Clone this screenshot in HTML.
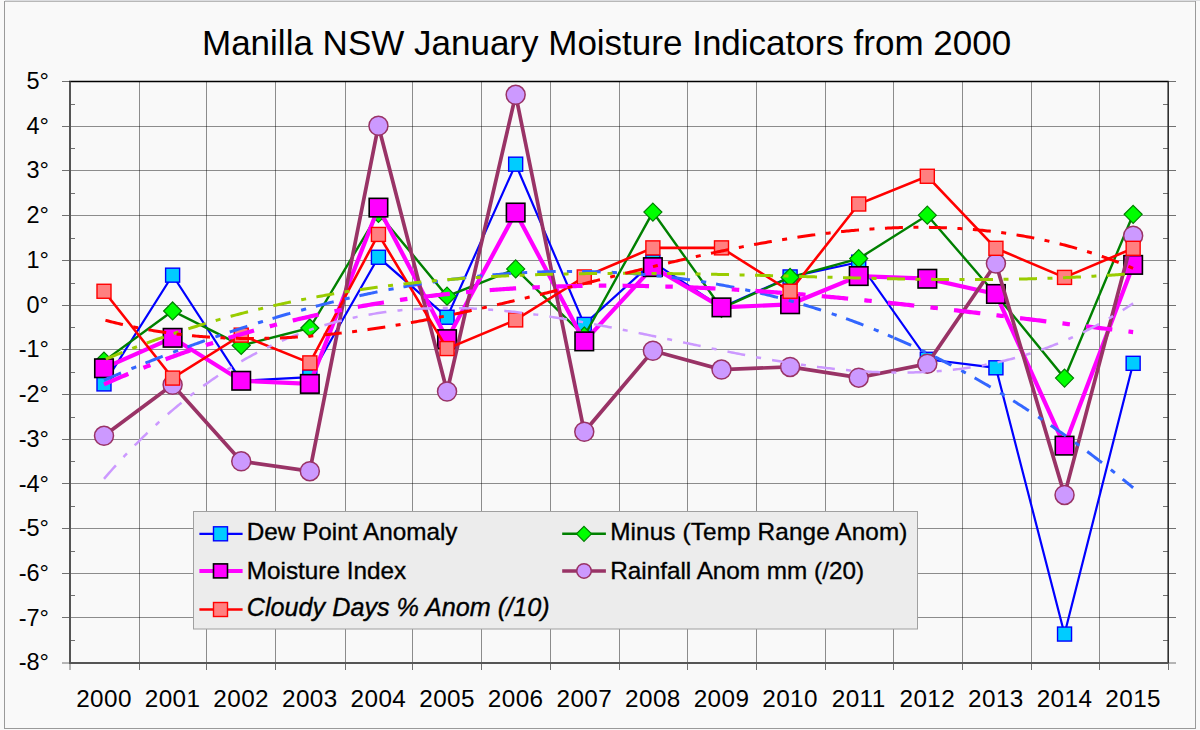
<!DOCTYPE html><html><head><meta charset="utf-8"><style>html,body{margin:0;padding:0;background:#f9f9f9;width:1200px;height:730px;overflow:hidden}svg{display:block}text{font-family:"Liberation Sans",sans-serif;fill:#000}</style></head><body>
<svg width="1200" height="730" viewBox="0 0 1200 730">
<rect x="0" y="0" width="1200" height="730" fill="#f9f9f9"/>
<rect x="5" y="0" width="1195" height="1" fill="#dcdde0"/>
<rect x="4.5" y="1.5" width="1191" height="727" fill="#f9f9f9" stroke="#9a9a9a" stroke-width="1"/>
<path d="M5 1.5H1195" stroke="#b8b8b8" stroke-width="1"/>
<text x="202" y="54.8" font-size="35">Manilla NSW January Moisture Indicators from 2000</text>
<path d="M70.0 126.50H1168.2 M70.0 170.50H1168.2 M70.0 215.50H1168.2 M70.0 260.50H1168.2 M70.0 305.50H1168.2 M70.0 349.50H1168.2 M70.0 394.50H1168.2 M70.0 439.50H1168.2 M70.0 483.50H1168.2 M70.0 528.50H1168.2 M70.0 573.50H1168.2 M70.0 617.50H1168.2" stroke="#000" stroke-opacity="0.44" stroke-width="1" fill="none"/>
<path d="M139.50 81.5V663.0 M206.50 81.5V663.0 M275.50 81.5V663.0 M345.50 81.5V663.0 M412.50 81.5V663.0 M481.50 81.5V663.0 M550.50 81.5V663.0 M619.50 81.5V663.0 M687.50 81.5V663.0 M756.50 81.5V663.0 M825.50 81.5V663.0 M893.50 81.5V663.0 M962.50 81.5V663.0 M1031.50 81.5V663.0 M1099.50 81.5V663.0" stroke="#000" stroke-opacity="0.44" stroke-width="1" fill="none"/>
<path d="M62 81.50H70.0 M1168.2 81.50H1176 M62 126.50H70.0 M1168.2 126.50H1176 M62 170.50H70.0 M1168.2 170.50H1176 M62 215.50H70.0 M1168.2 215.50H1176 M62 260.50H70.0 M1168.2 260.50H1176 M62 305.50H70.0 M1168.2 305.50H1176 M62 349.50H70.0 M1168.2 349.50H1176 M62 394.50H70.0 M1168.2 394.50H1176 M62 439.50H70.0 M1168.2 439.50H1176 M62 483.50H70.0 M1168.2 483.50H1176 M62 528.50H70.0 M1168.2 528.50H1176 M62 573.50H70.0 M1168.2 573.50H1176 M62 617.50H70.0 M1168.2 617.50H1176 M62 663.00H70.0 M1168.2 663.00H1176 M70.0 104.50H75 M1163 104.50H1168.2 M70.0 148.50H75 M1163 148.50H1168.2 M70.0 193.50H75 M1163 193.50H1168.2 M70.0 238.50H75 M1163 238.50H1168.2 M70.0 283.50H75 M1163 283.50H1168.2 M70.0 327.50H75 M1163 327.50H1168.2 M70.0 372.50H75 M1163 372.50H1168.2 M70.0 417.50H75 M1163 417.50H1168.2 M70.0 461.50H75 M1163 461.50H1168.2 M70.0 506.50H75 M1163 506.50H1168.2 M70.0 551.50H75 M1163 551.50H1168.2 M70.0 595.50H75 M1163 595.50H1168.2 M70.0 640.50H75 M1163 640.50H1168.2 M70.00 663.0V670 M139.50 663.0V670 M206.50 663.0V670 M275.50 663.0V670 M345.50 663.0V670 M412.50 663.0V670 M481.50 663.0V670 M550.50 663.0V670 M619.50 663.0V670 M687.50 663.0V670 M756.50 663.0V670 M825.50 663.0V670 M893.50 663.0V670 M962.50 663.0V670 M1031.50 663.0V670 M1099.50 663.0V670 M1168.50 663.0V670" stroke="#707070" stroke-width="1" fill="none"/>
<path d="M69.0 81.5H1168.7" stroke="#000" stroke-width="1.6" fill="none"/>
<path d="M1168.2 81.5V663.0" stroke="#303030" stroke-width="1.6" fill="none"/>
<path d="M70.0 81.5V663.0H1168.2" stroke="#555" stroke-width="2" fill="none"/>
<text x="49" y="88.9" font-size="23.5" text-anchor="end">5°</text>
<text x="49" y="133.6" font-size="23.5" text-anchor="end">4°</text>
<text x="49" y="178.4" font-size="23.5" text-anchor="end">3°</text>
<text x="49" y="223.1" font-size="23.5" text-anchor="end">2°</text>
<text x="49" y="267.8" font-size="23.5" text-anchor="end">1°</text>
<text x="49" y="312.6" font-size="23.5" text-anchor="end">0°</text>
<text x="49" y="357.3" font-size="23.5" text-anchor="end">-1°</text>
<text x="49" y="402.0" font-size="23.5" text-anchor="end">-2°</text>
<text x="49" y="446.7" font-size="23.5" text-anchor="end">-3°</text>
<text x="49" y="491.5" font-size="23.5" text-anchor="end">-4°</text>
<text x="49" y="536.2" font-size="23.5" text-anchor="end">-5°</text>
<text x="49" y="580.9" font-size="23.5" text-anchor="end">-6°</text>
<text x="49" y="625.7" font-size="23.5" text-anchor="end">-7°</text>
<text x="49" y="670.4" font-size="23.5" text-anchor="end">-8°</text>
<text x="104.0" y="706.6" font-size="24.3" letter-spacing="0.4" text-anchor="middle">2000</text>
<text x="172.6" y="706.6" font-size="24.3" letter-spacing="0.4" text-anchor="middle">2001</text>
<text x="241.2" y="706.6" font-size="24.3" letter-spacing="0.4" text-anchor="middle">2002</text>
<text x="309.8" y="706.6" font-size="24.3" letter-spacing="0.4" text-anchor="middle">2003</text>
<text x="378.4" y="706.6" font-size="24.3" letter-spacing="0.4" text-anchor="middle">2004</text>
<text x="447.1" y="706.6" font-size="24.3" letter-spacing="0.4" text-anchor="middle">2005</text>
<text x="515.7" y="706.6" font-size="24.3" letter-spacing="0.4" text-anchor="middle">2006</text>
<text x="584.3" y="706.6" font-size="24.3" letter-spacing="0.4" text-anchor="middle">2007</text>
<text x="652.9" y="706.6" font-size="24.3" letter-spacing="0.4" text-anchor="middle">2008</text>
<text x="721.5" y="706.6" font-size="24.3" letter-spacing="0.4" text-anchor="middle">2009</text>
<text x="790.1" y="706.6" font-size="24.3" letter-spacing="0.4" text-anchor="middle">2010</text>
<text x="858.7" y="706.6" font-size="24.3" letter-spacing="0.4" text-anchor="middle">2011</text>
<text x="927.3" y="706.6" font-size="24.3" letter-spacing="0.4" text-anchor="middle">2012</text>
<text x="995.9" y="706.6" font-size="24.3" letter-spacing="0.4" text-anchor="middle">2013</text>
<text x="1064.5" y="706.6" font-size="24.3" letter-spacing="0.4" text-anchor="middle">2014</text>
<text x="1133.2" y="706.6" font-size="24.3" letter-spacing="0.4" text-anchor="middle">2015</text>
<polyline points="104.0,383.9 172.6,275.2 241.2,380.8 309.8,377.2 378.4,257.3 447.1,317.2 515.7,164.2 584.3,324.4 652.9,262.2 721.5,307.4 790.1,277.0 858.7,262.2 927.3,359.3 995.9,367.8 1064.5,634.1 1133.2,363.3" fill="none" stroke="#0000ff" stroke-width="2.2" stroke-linejoin="miter" stroke-miterlimit="3"/>
<rect x="97.00" y="376.91" width="14" height="14" fill="#00ccff" stroke="#0000ff" stroke-width="1.4"/>
<rect x="165.61" y="268.16" width="14" height="14" fill="#00ccff" stroke="#0000ff" stroke-width="1.4"/>
<rect x="234.22" y="373.77" width="14" height="14" fill="#00ccff" stroke="#0000ff" stroke-width="1.4"/>
<rect x="302.83" y="370.19" width="14" height="14" fill="#00ccff" stroke="#0000ff" stroke-width="1.4"/>
<rect x="371.44" y="250.26" width="14" height="14" fill="#00ccff" stroke="#0000ff" stroke-width="1.4"/>
<rect x="440.05" y="310.23" width="14" height="14" fill="#00ccff" stroke="#0000ff" stroke-width="1.4"/>
<rect x="508.66" y="157.18" width="14" height="14" fill="#00ccff" stroke="#0000ff" stroke-width="1.4"/>
<rect x="577.27" y="317.39" width="14" height="14" fill="#00ccff" stroke="#0000ff" stroke-width="1.4"/>
<rect x="645.88" y="255.19" width="14" height="14" fill="#00ccff" stroke="#0000ff" stroke-width="1.4"/>
<rect x="714.49" y="300.38" width="14" height="14" fill="#00ccff" stroke="#0000ff" stroke-width="1.4"/>
<rect x="783.10" y="269.95" width="14" height="14" fill="#00ccff" stroke="#0000ff" stroke-width="1.4"/>
<rect x="851.71" y="255.19" width="14" height="14" fill="#00ccff" stroke="#0000ff" stroke-width="1.4"/>
<rect x="920.32" y="352.29" width="14" height="14" fill="#00ccff" stroke="#0000ff" stroke-width="1.4"/>
<rect x="988.93" y="360.80" width="14" height="14" fill="#00ccff" stroke="#0000ff" stroke-width="1.4"/>
<rect x="1057.54" y="627.06" width="14" height="14" fill="#00ccff" stroke="#0000ff" stroke-width="1.4"/>
<rect x="1126.15" y="356.32" width="14" height="14" fill="#00ccff" stroke="#0000ff" stroke-width="1.4"/>
<polyline points="104.0,361.1 172.6,311.0 241.2,345.4 309.8,328.0 378.4,213.4 447.1,296.2 515.7,268.9 584.3,336.0 652.9,212.1 721.5,308.3 790.1,277.4 858.7,258.6 927.3,215.2 995.9,294.4 1064.5,378.1 1133.2,214.3" fill="none" stroke="#008000" stroke-width="2.4" stroke-linejoin="miter" stroke-miterlimit="3"/>
<path d="M104.00 352.08L113.00 361.08L104.00 370.08L95.00 361.08Z" fill="#00ff00" stroke="#008000" stroke-width="1.2"/>
<path d="M172.61 301.96L181.61 310.96L172.61 319.96L163.61 310.96Z" fill="#00ff00" stroke="#008000" stroke-width="1.2"/>
<path d="M241.22 336.42L250.22 345.42L241.22 354.42L232.22 345.42Z" fill="#00ff00" stroke="#008000" stroke-width="1.2"/>
<path d="M309.83 318.97L318.83 327.97L309.83 336.97L300.83 327.97Z" fill="#00ff00" stroke="#008000" stroke-width="1.2"/>
<path d="M378.44 204.41L387.44 213.41L378.44 222.41L369.44 213.41Z" fill="#00ff00" stroke="#008000" stroke-width="1.2"/>
<path d="M447.05 287.20L456.05 296.20L447.05 305.20L438.05 296.20Z" fill="#00ff00" stroke="#008000" stroke-width="1.2"/>
<path d="M515.66 259.90L524.66 268.90L515.66 277.90L506.66 268.90Z" fill="#00ff00" stroke="#008000" stroke-width="1.2"/>
<path d="M584.27 327.02L593.27 336.02L584.27 345.02L575.27 336.02Z" fill="#00ff00" stroke="#008000" stroke-width="1.2"/>
<path d="M652.88 203.07L661.88 212.07L652.88 221.07L643.88 212.07Z" fill="#00ff00" stroke="#008000" stroke-width="1.2"/>
<path d="M721.49 299.28L730.49 308.28L721.49 317.28L712.49 308.28Z" fill="#00ff00" stroke="#008000" stroke-width="1.2"/>
<path d="M790.10 268.40L799.10 277.40L790.10 286.40L781.10 277.40Z" fill="#00ff00" stroke="#008000" stroke-width="1.2"/>
<path d="M858.71 249.61L867.71 258.61L858.71 267.61L849.71 258.61Z" fill="#00ff00" stroke="#008000" stroke-width="1.2"/>
<path d="M927.32 206.20L936.32 215.20L927.32 224.20L918.32 215.20Z" fill="#00ff00" stroke="#008000" stroke-width="1.2"/>
<path d="M995.93 285.41L1004.93 294.41L995.93 303.41L986.93 294.41Z" fill="#00ff00" stroke="#008000" stroke-width="1.2"/>
<path d="M1064.54 369.09L1073.54 378.09L1064.54 387.09L1055.54 378.09Z" fill="#00ff00" stroke="#008000" stroke-width="1.2"/>
<path d="M1133.15 205.31L1142.15 214.31L1133.15 223.31L1124.15 214.31Z" fill="#00ff00" stroke="#008000" stroke-width="1.2"/>
<polyline points="104.0,368.2 172.6,337.8 241.2,380.8 309.8,383.9 378.4,207.6 447.1,339.2 515.7,212.5 584.3,341.4 652.9,267.1 721.5,307.4 790.1,304.3 858.7,276.1 927.3,278.7 995.9,294.0 1064.5,445.7 1133.2,264.9" fill="none" stroke="#ff00ff" stroke-width="4.2" stroke-linejoin="miter" stroke-miterlimit="3"/>
<rect x="94.75" y="359.00" width="18.5" height="18.5" fill="#ff00ff" stroke="#000" stroke-width="1.6"/>
<rect x="163.36" y="328.56" width="18.5" height="18.5" fill="#ff00ff" stroke="#000" stroke-width="1.6"/>
<rect x="231.97" y="371.52" width="18.5" height="18.5" fill="#ff00ff" stroke="#000" stroke-width="1.6"/>
<rect x="300.58" y="374.66" width="18.5" height="18.5" fill="#ff00ff" stroke="#000" stroke-width="1.6"/>
<rect x="369.19" y="198.34" width="18.5" height="18.5" fill="#ff00ff" stroke="#000" stroke-width="1.6"/>
<rect x="437.80" y="329.91" width="18.5" height="18.5" fill="#ff00ff" stroke="#000" stroke-width="1.6"/>
<rect x="506.41" y="203.26" width="18.5" height="18.5" fill="#ff00ff" stroke="#000" stroke-width="1.6"/>
<rect x="575.02" y="332.14" width="18.5" height="18.5" fill="#ff00ff" stroke="#000" stroke-width="1.6"/>
<rect x="643.63" y="257.86" width="18.5" height="18.5" fill="#ff00ff" stroke="#000" stroke-width="1.6"/>
<rect x="712.24" y="298.13" width="18.5" height="18.5" fill="#ff00ff" stroke="#000" stroke-width="1.6"/>
<rect x="780.85" y="295.00" width="18.5" height="18.5" fill="#ff00ff" stroke="#000" stroke-width="1.6"/>
<rect x="849.46" y="266.81" width="18.5" height="18.5" fill="#ff00ff" stroke="#000" stroke-width="1.6"/>
<rect x="918.07" y="269.50" width="18.5" height="18.5" fill="#ff00ff" stroke="#000" stroke-width="1.6"/>
<rect x="986.68" y="284.71" width="18.5" height="18.5" fill="#ff00ff" stroke="#000" stroke-width="1.6"/>
<rect x="1055.29" y="436.41" width="18.5" height="18.5" fill="#ff00ff" stroke="#000" stroke-width="1.6"/>
<rect x="1123.90" y="255.62" width="18.5" height="18.5" fill="#ff00ff" stroke="#000" stroke-width="1.6"/>
<polyline points="104.0,435.8 172.6,384.8 241.2,461.3 309.8,471.2 378.4,125.7 447.1,391.5 515.7,94.8 584.3,431.8 652.9,350.8 721.5,369.6 790.1,366.9 858.7,377.6 927.3,363.8 995.9,263.5 1064.5,494.9 1133.2,235.8" fill="none" stroke="#993366" stroke-width="3.7" stroke-linejoin="miter" stroke-miterlimit="3"/>
<circle cx="104.00" cy="435.82" r="9.5" fill="#cc99ff" stroke="#993366" stroke-width="1.5"/>
<circle cx="172.61" cy="384.80" r="9.5" fill="#cc99ff" stroke="#993366" stroke-width="1.5"/>
<circle cx="241.22" cy="461.32" r="9.5" fill="#cc99ff" stroke="#993366" stroke-width="1.5"/>
<circle cx="309.83" cy="471.17" r="9.5" fill="#cc99ff" stroke="#993366" stroke-width="1.5"/>
<circle cx="378.44" cy="125.70" r="9.5" fill="#cc99ff" stroke="#993366" stroke-width="1.5"/>
<circle cx="447.05" cy="391.51" r="9.5" fill="#cc99ff" stroke="#993366" stroke-width="1.5"/>
<circle cx="515.66" cy="94.82" r="9.5" fill="#cc99ff" stroke="#993366" stroke-width="1.5"/>
<circle cx="584.27" cy="431.79" r="9.5" fill="#cc99ff" stroke="#993366" stroke-width="1.5"/>
<circle cx="652.88" cy="350.79" r="9.5" fill="#cc99ff" stroke="#993366" stroke-width="1.5"/>
<circle cx="721.49" cy="369.59" r="9.5" fill="#cc99ff" stroke="#993366" stroke-width="1.5"/>
<circle cx="790.10" cy="366.90" r="9.5" fill="#cc99ff" stroke="#993366" stroke-width="1.5"/>
<circle cx="858.71" cy="377.64" r="9.5" fill="#cc99ff" stroke="#993366" stroke-width="1.5"/>
<circle cx="927.32" cy="363.77" r="9.5" fill="#cc99ff" stroke="#993366" stroke-width="1.5"/>
<circle cx="995.93" cy="263.53" r="9.5" fill="#cc99ff" stroke="#993366" stroke-width="1.5"/>
<circle cx="1064.54" cy="494.89" r="9.5" fill="#cc99ff" stroke="#993366" stroke-width="1.5"/>
<circle cx="1133.15" cy="235.78" r="9.5" fill="#cc99ff" stroke="#993366" stroke-width="1.5"/>
<polyline points="104.0,291.3 172.6,378.1 241.2,335.1 309.8,362.9 378.4,234.4 447.1,348.6 515.7,319.9 584.3,277.0 652.9,247.9 721.5,247.9 790.1,291.3 858.7,204.0 927.3,176.3 995.9,248.3 1064.5,277.4 1133.2,248.3" fill="none" stroke="#ff0000" stroke-width="2.6" stroke-linejoin="miter" stroke-miterlimit="3"/>
<rect x="97.00" y="284.27" width="14" height="14" fill="#ff8080" stroke="#ff0000" stroke-width="1.4"/>
<rect x="165.61" y="371.09" width="14" height="14" fill="#ff8080" stroke="#ff0000" stroke-width="1.4"/>
<rect x="234.22" y="328.13" width="14" height="14" fill="#ff8080" stroke="#ff0000" stroke-width="1.4"/>
<rect x="302.83" y="355.88" width="14" height="14" fill="#ff8080" stroke="#ff0000" stroke-width="1.4"/>
<rect x="371.44" y="227.44" width="14" height="14" fill="#ff8080" stroke="#ff0000" stroke-width="1.4"/>
<rect x="440.05" y="341.56" width="14" height="14" fill="#ff8080" stroke="#ff0000" stroke-width="1.4"/>
<rect x="508.66" y="312.91" width="14" height="14" fill="#ff8080" stroke="#ff0000" stroke-width="1.4"/>
<rect x="577.27" y="269.95" width="14" height="14" fill="#ff8080" stroke="#ff0000" stroke-width="1.4"/>
<rect x="645.88" y="240.87" width="14" height="14" fill="#ff8080" stroke="#ff0000" stroke-width="1.4"/>
<rect x="714.49" y="240.87" width="14" height="14" fill="#ff8080" stroke="#ff0000" stroke-width="1.4"/>
<rect x="783.10" y="284.27" width="14" height="14" fill="#ff8080" stroke="#ff0000" stroke-width="1.4"/>
<rect x="851.71" y="197.01" width="14" height="14" fill="#ff8080" stroke="#ff0000" stroke-width="1.4"/>
<rect x="920.32" y="169.27" width="14" height="14" fill="#ff8080" stroke="#ff0000" stroke-width="1.4"/>
<rect x="988.93" y="241.31" width="14" height="14" fill="#ff8080" stroke="#ff0000" stroke-width="1.4"/>
<rect x="1057.54" y="270.40" width="14" height="14" fill="#ff8080" stroke="#ff0000" stroke-width="1.4"/>
<rect x="1126.15" y="241.31" width="14" height="14" fill="#ff8080" stroke="#ff0000" stroke-width="1.4"/>
<polyline points="104.00,380.19 105.72,379.45 107.43,378.72 109.15,378.00 110.86,377.27 112.58,376.54 114.29,375.82 116.01,375.10 117.72,374.38 119.44,373.67 121.15,372.95 122.87,372.24 124.58,371.53 126.30,370.82 128.01,370.11 129.73,369.41 131.44,368.71 133.16,368.01 134.87,367.31 136.59,366.61 138.31,365.92 140.02,365.23 141.74,364.54 143.45,363.85 145.17,363.16 146.88,362.48 148.60,361.80 150.31,361.12 152.03,360.44 153.74,359.76 155.46,359.09 157.17,358.42 158.89,357.75 160.60,357.08 162.32,356.42 164.03,355.76 165.75,355.10 167.46,354.44 169.18,353.78 170.89,353.13 172.61,352.48 174.33,351.83 176.04,351.18 177.76,350.54 179.47,349.89 181.19,349.25 182.90,348.61 184.62,347.98 186.33,347.34 188.05,346.71 189.76,346.08 191.48,345.46 193.19,344.83 194.91,344.21 196.62,343.59 198.34,342.97 200.05,342.35 201.77,341.74 203.48,341.13 205.20,340.52 206.91,339.91 208.63,339.31 210.35,338.70 212.06,338.10 213.78,337.51 215.49,336.91 217.21,336.32 218.92,335.73 220.64,335.14 222.35,334.55 224.07,333.97 225.78,333.39 227.50,332.81 229.21,332.23 230.93,331.66 232.64,331.08 234.36,330.51 236.07,329.95 237.79,329.38 239.50,328.82 241.22,328.26 242.94,327.70 244.65,327.15 246.37,326.59 248.08,326.04 249.80,325.49 251.51,324.95 253.23,324.41 254.94,323.86 256.66,323.33 258.37,322.79 260.09,322.26 261.80,321.73 263.52,321.20 265.23,320.67 266.95,320.15 268.66,319.63 270.38,319.11 272.09,318.59 273.81,318.08 275.52,317.57 277.24,317.06 278.96,316.55 280.67,316.05 282.39,315.55 284.10,315.05 285.82,314.55 287.53,314.06 289.25,313.57 290.96,313.08 292.68,312.59 294.39,312.11 296.11,311.63 297.82,311.15 299.54,310.68 301.25,310.20 302.97,309.73 304.68,309.26 306.40,308.80 308.11,308.34 309.83,307.88 311.55,307.42 313.26,306.96 314.98,306.51 316.69,306.06 318.41,305.62 320.12,305.17 321.84,304.73 323.55,304.29 325.27,303.85 326.98,303.42 328.70,302.99 330.41,302.56 332.13,302.14 333.84,301.71 335.56,301.29 337.27,300.88 338.99,300.46 340.70,300.05 342.42,299.64 344.13,299.23 345.85,298.83 347.57,298.43 349.28,298.03 351.00,297.63 352.71,297.24 354.43,296.85 356.14,296.46 357.86,296.08 359.57,295.69 361.29,295.32 363.00,294.94 364.72,294.56 366.43,294.19 368.15,293.83 369.86,293.46 371.58,293.10 373.29,292.74 375.01,292.38 376.72,292.03 378.44,291.68 380.16,291.33 381.87,290.98 383.59,290.64 385.30,290.30 387.02,289.96 388.73,289.63 390.45,289.30 392.16,288.97 393.88,288.64 395.59,288.32 397.31,288.00 399.02,287.68 400.74,287.37 402.45,287.06 404.17,286.75 405.88,286.44 407.60,286.14 409.31,285.84 411.03,285.54 412.75,285.25 414.46,284.96 416.18,284.67 417.89,284.39 419.61,284.11 421.32,283.83 423.04,283.55 424.75,283.28 426.47,283.01 428.18,282.74 429.90,282.48 431.61,282.22 433.33,281.96 435.04,281.70 436.76,281.45 438.47,281.20 440.19,280.96 441.90,280.71 443.62,280.47 445.33,280.24 447.05,280.00 448.77,279.77 450.48,279.54 452.20,279.31 453.91,279.09 455.63,278.87 457.34,278.65 459.06,278.44 460.77,278.23 462.49,278.02 464.20,277.81 465.92,277.61 467.63,277.41 469.35,277.22 471.06,277.03 472.78,276.84 474.49,276.65 476.21,276.47 477.92,276.29 479.64,276.11 481.36,275.94 483.07,275.77 484.79,275.60 486.50,275.43 488.22,275.27 489.93,275.12 491.65,274.96 493.36,274.81 495.08,274.66 496.79,274.52 498.51,274.37 500.22,274.24 501.94,274.10 503.65,273.97 505.37,273.84 507.08,273.71 508.80,273.59 510.51,273.47 512.23,273.36 513.94,273.24 515.66,273.13 517.38,273.03 519.09,272.92 520.81,272.82 522.52,272.73 524.24,272.63 525.95,272.54 527.67,272.46 529.38,272.37 531.10,272.29 532.81,272.22 534.53,272.14 536.24,272.07 537.96,272.01 539.67,271.94 541.39,271.88 543.10,271.83 544.82,271.77 546.53,271.72 548.25,271.68 549.96,271.63 551.68,271.59 553.40,271.56 555.11,271.52 556.83,271.49 558.54,271.47 560.26,271.44 561.97,271.43 563.69,271.41 565.40,271.40 567.12,271.39 568.83,271.38 570.55,271.38 572.26,271.38 573.98,271.38 575.69,271.39 577.41,271.40 579.12,271.42 580.84,271.44 582.55,271.46 584.27,271.48 585.99,271.51 587.70,271.54 589.42,271.58 591.13,271.62 592.85,271.66 594.56,271.71 596.28,271.76 597.99,271.81 599.71,271.86 601.42,271.93 603.14,271.99 604.85,272.06 606.57,272.13 608.28,272.20 610.00,272.28 611.71,272.36 613.43,272.44 615.14,272.53 616.86,272.63 618.58,272.72 620.29,272.82 622.01,272.92 623.72,273.03 625.44,273.14 627.15,273.25 628.87,273.37 630.58,273.49 632.30,273.62 634.01,273.74 635.73,273.88 637.44,274.01 639.16,274.15 640.87,274.29 642.59,274.44 644.30,274.59 646.02,274.74 647.73,274.90 649.45,275.06 651.16,275.23 652.88,275.39 654.60,275.56 656.31,275.73 658.03,275.90 659.74,276.08 661.46,276.26 663.17,276.45 664.89,276.64 666.60,276.83 668.32,277.02 670.03,277.22 671.75,277.43 673.46,277.63 675.18,277.85 676.89,278.06 678.61,278.28 680.32,278.50 682.04,278.73 683.75,278.96 685.47,279.19 687.18,279.43 688.90,279.67 690.62,279.91 692.33,280.16 694.05,280.42 695.76,280.67 697.48,280.93 699.19,281.20 700.91,281.46 702.62,281.74 704.34,282.01 706.05,282.29 707.77,282.58 709.48,282.86 711.20,283.15 712.91,283.45 714.63,283.75 716.34,284.05 718.06,284.36 719.77,284.67 721.49,284.98 723.21,285.30 724.92,285.62 726.64,285.95 728.35,286.28 730.07,286.61 731.78,286.95 733.50,287.29 735.21,287.64 736.93,287.99 738.64,288.34 740.36,288.70 742.07,289.06 743.79,289.43 745.50,289.80 747.22,290.17 748.93,290.55 750.65,290.93 752.36,291.32 754.08,291.71 755.79,292.10 757.51,292.50 759.23,292.90 760.94,293.30 762.66,293.71 764.37,294.13 766.09,294.55 767.80,294.97 769.52,295.39 771.23,295.82 772.95,296.26 774.66,296.70 776.38,297.14 778.09,297.58 779.81,298.03 781.52,298.49 783.24,298.95 784.95,299.41 786.67,299.88 788.38,300.35 790.10,300.82 791.82,301.30 793.53,301.79 795.25,302.27 796.96,302.76 798.68,303.26 800.39,303.76 802.11,304.26 803.82,304.77 805.54,305.28 807.25,305.80 808.97,306.32 810.68,306.85 812.40,307.38 814.11,307.91 815.83,308.45 817.54,308.99 819.26,309.53 820.97,310.08 822.69,310.64 824.40,311.20 826.12,311.76 827.84,312.33 829.55,312.90 831.27,313.47 832.98,314.05 834.70,314.64 836.41,315.23 838.13,315.82 839.84,316.42 841.56,317.02 843.27,317.62 844.99,318.23 846.70,318.85 848.42,319.46 850.13,320.09 851.85,320.71 853.56,321.34 855.28,321.98 856.99,322.62 858.71,323.26 860.43,323.92 862.14,324.59 863.86,325.26 865.57,325.93 867.29,326.61 869.00,327.29 870.72,327.97 872.43,328.66 874.15,329.36 875.86,330.06 877.58,330.76 879.29,331.47 881.01,332.18 882.72,332.90 884.44,333.62 886.15,334.35 887.87,335.08 889.58,335.81 891.30,336.55 893.01,337.29" fill="none" stroke="#3366ff" stroke-width="3" stroke-dasharray="18.5 11.2 5.2 10" stroke-dashoffset="0.00"/><polyline points="893.01,337.29 894.73,338.04 896.45,338.79 898.16,339.55 899.88,340.31 901.59,341.08 903.31,341.85 905.02,342.62 906.74,343.40 908.45,344.18 910.17,344.97 911.88,345.76 913.60,346.56 915.31,347.36 917.03,348.17 918.74,348.98 920.46,349.79 922.17,350.61 923.89,351.44 925.60,352.27 927.32,353.10 929.04,353.94 930.75,354.78 932.47,355.63 934.18,356.48 935.90,357.34 937.61,358.20 939.33,359.06 941.04,359.93 942.76,360.81 944.47,361.68 946.19,362.57 947.90,363.46 949.62,364.35 951.33,365.25 953.05,366.15 954.76,367.06 956.48,367.97 958.19,368.88 959.91,369.80 961.62,370.73 963.34,371.66 965.06,372.60 966.77,373.53 968.49,374.48 970.20,375.43 971.92,376.38 973.63,377.34 975.35,378.30 977.06,379.27 978.78,380.24 980.49,381.22 982.21,382.20 983.92,383.19 985.64,384.18 987.35,385.17 989.07,386.18 990.78,387.18 992.50,388.19 994.21,389.21 995.93,390.23 997.65,391.25 999.36,392.28 1001.08,393.31 1002.79,394.35 1004.51,395.40 1006.22,396.45 1007.94,397.50 1009.65,398.56 1011.37,399.62 1013.08,400.69 1014.80,401.76 1016.51,402.84 1018.23,403.92 1019.94,405.01 1021.66,406.10 1023.37,407.20 1025.09,408.30 1026.80,409.40 1028.52,410.51 1030.24,411.63 1031.95,412.75 1033.67,413.88 1035.38,415.01 1037.10,416.14 1038.81,417.29 1040.53,418.43 1042.24,419.58 1043.96,420.74 1045.67,421.90 1047.39,423.06 1049.10,424.23 1050.82,425.41 1052.53,426.59 1054.25,427.77 1055.96,428.96 1057.68,430.16 1059.39,431.36 1061.11,432.56 1062.82,433.77 1064.54,434.99 1066.26,436.21 1067.97,437.43 1069.69,438.66 1071.40,439.90 1073.12,441.14 1074.83,442.38 1076.55,443.63 1078.26,444.89 1079.98,446.15 1081.69,447.41 1083.41,448.68 1085.12,449.96 1086.84,451.24 1088.55,452.52 1090.27,453.81 1091.98,455.11 1093.70,456.41 1095.41,457.71 1097.13,459.02 1098.85,460.34 1100.56,461.66 1102.28,462.99 1103.99,464.32 1105.71,465.65 1107.42,467.00 1109.14,468.34 1110.85,469.69 1112.57,471.05 1114.28,472.41 1116.00,473.78 1117.71,475.15 1119.43,476.53 1121.14,477.91 1122.86,479.30 1124.57,480.69 1126.29,482.09 1128.00,483.49 1129.72,484.90 1131.43,486.31 1133.15,487.73" fill="none" stroke="#3366ff" stroke-width="3" stroke-dasharray="18.5 11.2 5.2 10" stroke-dashoffset="806.83"/>
<polyline points="104.00,359.90 105.72,359.18 107.43,358.46 109.15,357.75 110.86,357.04 112.58,356.33 114.29,355.63 116.01,354.93 117.72,354.23 119.44,353.54 121.15,352.85 122.87,352.17 124.58,351.49 126.30,350.81 128.01,350.14 129.73,349.47 131.44,348.81 133.16,348.14 134.87,347.49 136.59,346.83 138.31,346.18 140.02,345.53 141.74,344.89 143.45,344.25 145.17,343.62 146.88,342.98 148.60,342.36 150.31,341.73 152.03,341.11 153.74,340.49 155.46,339.88 157.17,339.27 158.89,338.66 160.60,338.06 162.32,337.46 164.03,336.86 165.75,336.27 167.46,335.68 169.18,335.10 170.89,334.51 172.61,333.93 174.33,333.36 176.04,332.79 177.76,332.22 179.47,331.66 181.19,331.09 182.90,330.54 184.62,329.98 186.33,329.43 188.05,328.88 189.76,328.34 191.48,327.80 193.19,327.26 194.91,326.73 196.62,326.20 198.34,325.67 200.05,325.15 201.77,324.63 203.48,324.11 205.20,323.60 206.91,323.09 208.63,322.58 210.35,322.07 212.06,321.57 213.78,321.08 215.49,320.58 217.21,320.09 218.92,319.60 220.64,319.12 222.35,318.64 224.07,318.16 225.78,317.69 227.50,317.22 229.21,316.75 230.93,316.28 232.64,315.82 234.36,315.36 236.07,314.91 237.79,314.45 239.50,314.00 241.22,313.56 242.94,313.11 244.65,312.67 246.37,312.24 248.08,311.80 249.80,311.37 251.51,310.94 253.23,310.52 254.94,310.10 256.66,309.68 258.37,309.26 260.09,308.85 261.80,308.44 263.52,308.03 265.23,307.63 266.95,307.23 268.66,306.83 270.38,306.44 272.09,306.05 273.81,305.66 275.52,305.27 277.24,304.89 278.96,304.51 280.67,304.13 282.39,303.76 284.10,303.39 285.82,303.02 287.53,302.65 289.25,302.29 290.96,301.93 292.68,301.57 294.39,301.22 296.11,300.86 297.82,300.52 299.54,300.17 301.25,299.83 302.97,299.49 304.68,299.15 306.40,298.81 308.11,298.48 309.83,298.15 311.55,297.83 313.26,297.50 314.98,297.18 316.69,296.86 318.41,296.55 320.12,296.23 321.84,295.92 323.55,295.61 325.27,295.31 326.98,295.01 328.70,294.71 330.41,294.41 332.13,294.11 333.84,293.82 335.56,293.53 337.27,293.24 338.99,292.96 340.70,292.68 342.42,292.40 344.13,292.12 345.85,291.85 347.57,291.57 349.28,291.31 351.00,291.04 352.71,290.77 354.43,290.51 356.14,290.25 357.86,290.00 359.57,289.74 361.29,289.49 363.00,289.24 364.72,288.99 366.43,288.75 368.15,288.51 369.86,288.27 371.58,288.03 373.29,287.79 375.01,287.56 376.72,287.33 378.44,287.10 380.16,286.87 381.87,286.65 383.59,286.42 385.30,286.20 387.02,285.98 388.73,285.77 390.45,285.55 392.16,285.34 393.88,285.13 395.59,284.93 397.31,284.72 399.02,284.52 400.74,284.32 402.45,284.12 404.17,283.92 405.88,283.73 407.60,283.54 409.31,283.35 411.03,283.16 412.75,282.97 414.46,282.79 416.18,282.61 417.89,282.43 419.61,282.25 421.32,282.08 423.04,281.91 424.75,281.74 426.47,281.57 428.18,281.40 429.90,281.24 431.61,281.07 433.33,280.91 435.04,280.76 436.76,280.60 438.47,280.45 440.19,280.29 441.90,280.14 443.62,279.99 445.33,279.85 447.05,279.70 448.77,279.56 450.48,279.42 452.20,279.28 453.91,279.15 455.63,279.01 457.34,278.88 459.06,278.75 460.77,278.62 462.49,278.49 464.20,278.37 465.92,278.24 467.63,278.12 469.35,278.00 471.06,277.88 472.78,277.77 474.49,277.65 476.21,277.54 477.92,277.43 479.64,277.32 481.36,277.21 483.07,277.11 484.79,277.00 486.50,276.90 488.22,276.80 489.93,276.70 491.65,276.61 493.36,276.51 495.08,276.42 496.79,276.33 498.51,276.24 500.22,276.15 501.94,276.06 503.65,275.98 505.37,275.89 507.08,275.81 508.80,275.73 510.51,275.65 512.23,275.58 513.94,275.50 515.66,275.43 517.38,275.35 519.09,275.28 520.81,275.21 522.52,275.15 524.24,275.08 525.95,275.01 527.67,274.95 529.38,274.89 531.10,274.83 532.81,274.77 534.53,274.71 536.24,274.66 537.96,274.60 539.67,274.55 541.39,274.50 543.10,274.45 544.82,274.40 546.53,274.35 548.25,274.31 549.96,274.26 551.68,274.22 553.40,274.18 555.11,274.14 556.83,274.10 558.54,274.06 560.26,274.02 561.97,273.99 563.69,273.96 565.40,273.92 567.12,273.89 568.83,273.86 570.55,273.83 572.26,273.81 573.98,273.78 575.69,273.76 577.41,273.73 579.12,273.71 580.84,273.69 582.55,273.67 584.27,273.65 585.99,273.62 587.70,273.60 589.42,273.57 591.13,273.55 592.85,273.53 594.56,273.51 596.28,273.49 597.99,273.47 599.71,273.46 601.42,273.44 603.14,273.42 604.85,273.41 606.57,273.40 608.28,273.39 610.00,273.38 611.71,273.37 613.43,273.36 615.14,273.35 616.86,273.34 618.58,273.34 620.29,273.33 622.01,273.33 623.72,273.33 625.44,273.33 627.15,273.32 628.87,273.33 630.58,273.33 632.30,273.33 634.01,273.33 635.73,273.34 637.44,273.34 639.16,273.35 640.87,273.35 642.59,273.36 644.30,273.37 646.02,273.38 647.73,273.39 649.45,273.40 651.16,273.41 652.88,273.42 654.60,273.43 656.31,273.45 658.03,273.46 659.74,273.48 661.46,273.49 663.17,273.51 664.89,273.53 666.60,273.55 668.32,273.57 670.03,273.59 671.75,273.61 673.46,273.63 675.18,273.65 676.89,273.67 678.61,273.69 680.32,273.72 682.04,273.74 683.75,273.77 685.47,273.79 687.18,273.82 688.90,273.85 690.62,273.87 692.33,273.90 694.05,273.93 695.76,273.96 697.48,273.99 699.19,274.02 700.91,274.05 702.62,274.08 704.34,274.11 706.05,274.15 707.77,274.18 709.48,274.21 711.20,274.25 712.91,274.28 714.63,274.32 716.34,274.35 718.06,274.39 719.77,274.42 721.49,274.46 723.21,274.50 724.92,274.53 726.64,274.57 728.35,274.61 730.07,274.65 731.78,274.68 733.50,274.72 735.21,274.76 736.93,274.80 738.64,274.84 740.36,274.88 742.07,274.92 743.79,274.96 745.50,275.01 747.22,275.05 748.93,275.09 750.65,275.13 752.36,275.17 754.08,275.22 755.79,275.26 757.51,275.30 759.23,275.34 760.94,275.39 762.66,275.43 764.37,275.47 766.09,275.52 767.80,275.56 769.52,275.61 771.23,275.65 772.95,275.70 774.66,275.74 776.38,275.78 778.09,275.83 779.81,275.87 781.52,275.92 783.24,275.96 784.95,276.01 786.67,276.05 788.38,276.10 790.10,276.14 791.82,276.19 793.53,276.24 795.25,276.29 796.96,276.34 798.68,276.39 800.39,276.44 802.11,276.49 803.82,276.54 805.54,276.59 807.25,276.63 808.97,276.68 810.68,276.73 812.40,276.78 814.11,276.83 815.83,276.88 817.54,276.93 819.26,276.97 820.97,277.02 822.69,277.07 824.40,277.12 826.12,277.17 827.84,277.21 829.55,277.26 831.27,277.31 832.98,277.35 834.70,277.40 836.41,277.45 838.13,277.49 839.84,277.54 841.56,277.58 843.27,277.63 844.99,277.68 846.70,277.72 848.42,277.76 850.13,277.81 851.85,277.85 853.56,277.90 855.28,277.94 856.99,277.98 858.71,278.02 860.43,278.07 862.14,278.11 863.86,278.15 865.57,278.19 867.29,278.23 869.00,278.27 870.72,278.31 872.43,278.35 874.15,278.39 875.86,278.43 877.58,278.46 879.29,278.50 881.01,278.54 882.72,278.57 884.44,278.61 886.15,278.65 887.87,278.68 889.58,278.72 891.30,278.75 893.01,278.78 894.73,278.81 896.45,278.85 898.16,278.88 899.88,278.91 901.59,278.94 903.31,278.97 905.02,279.00 906.74,279.03 908.45,279.05 910.17,279.08 911.88,279.11 913.60,279.13 915.31,279.16 917.03,279.18 918.74,279.21 920.46,279.23 922.17,279.25 923.89,279.27 925.60,279.30 927.32,279.32 929.04,279.34 930.75,279.35 932.47,279.37 934.18,279.39 935.90,279.41 937.61,279.42 939.33,279.44 941.04,279.45 942.76,279.46 944.47,279.47 946.19,279.49 947.90,279.50 949.62,279.51 951.33,279.51 953.05,279.52 954.76,279.53 956.48,279.54 958.19,279.54 959.91,279.54 961.62,279.55 963.34,279.55 965.06,279.55 966.77,279.55 968.49,279.55 970.20,279.55 971.92,279.55 973.63,279.54 975.35,279.54 977.06,279.53 978.78,279.53 980.49,279.52 982.21,279.51 983.92,279.50 985.64,279.49 987.35,279.48 989.07,279.46 990.78,279.45 992.50,279.44 994.21,279.42 995.93,279.40 997.65,279.38 999.36,279.36 1001.08,279.34 1002.79,279.32 1004.51,279.30 1006.22,279.27 1007.94,279.25 1009.65,279.22 1011.37,279.19 1013.08,279.16 1014.80,279.13 1016.51,279.10 1018.23,279.07 1019.94,279.03 1021.66,279.00 1023.37,278.96 1025.09,278.92 1026.80,278.88 1028.52,278.84 1030.24,278.80 1031.95,278.76 1033.67,278.71 1035.38,278.66 1037.10,278.62 1038.81,278.57 1040.53,278.52 1042.24,278.47 1043.96,278.41 1045.67,278.36 1047.39,278.30 1049.10,278.24 1050.82,278.19 1052.53,278.13 1054.25,278.06 1055.96,278.00 1057.68,277.94 1059.39,277.87 1061.11,277.80 1062.82,277.73 1064.54,277.66 1066.26,277.59 1067.97,277.52 1069.69,277.44 1071.40,277.36 1073.12,277.29 1074.83,277.21 1076.55,277.12 1078.26,277.04 1079.98,276.96 1081.69,276.87 1083.41,276.78 1085.12,276.69 1086.84,276.60 1088.55,276.51 1090.27,276.41 1091.98,276.32 1093.70,276.22 1095.41,276.12 1097.13,276.02 1098.85,275.92 1100.56,275.81 1102.28,275.70 1103.99,275.60 1105.71,275.49 1107.42,275.37 1109.14,275.26 1110.85,275.15 1112.57,275.03 1114.28,274.91 1116.00,274.79 1117.71,274.67 1119.43,274.54 1121.14,274.42 1122.86,274.29 1124.57,274.16 1126.29,274.03 1128.00,273.89 1129.72,273.76 1131.43,273.62 1133.15,273.48" fill="none" stroke="#99cc00" stroke-width="3" stroke-dasharray="18 10.5 5 10.5" stroke-dashoffset="-2.00"/>
<polyline points="104.00,384.33 105.72,383.57 107.43,382.82 109.15,382.07 110.86,381.32 112.58,380.57 114.29,379.83 116.01,379.10 117.72,378.36 119.44,377.63 121.15,376.91 122.87,376.18 124.58,375.46 126.30,374.74 128.01,374.03 129.73,373.32 131.44,372.62 133.16,371.91 134.87,371.21 136.59,370.52 138.31,369.82 140.02,369.13 141.74,368.45 143.45,367.77 145.17,367.09 146.88,366.41 148.60,365.74 150.31,365.07 152.03,364.40 153.74,363.74 155.46,363.08 157.17,362.42 158.89,361.77 160.60,361.12 162.32,360.48 164.03,359.83 165.75,359.19 167.46,358.56 169.18,357.92 170.89,357.29 172.61,356.67 174.33,356.04 176.04,355.42 177.76,354.81 179.47,354.19 181.19,353.58 182.90,352.98 184.62,352.37 186.33,351.77 188.05,351.18 189.76,350.58 191.48,349.99 193.19,349.40 194.91,348.82 196.62,348.24 198.34,347.66 200.05,347.08 201.77,346.51 203.48,345.94 205.20,345.38 206.91,344.81 208.63,344.25 210.35,343.70 212.06,343.14 213.78,342.59 215.49,342.05 217.21,341.50 218.92,340.96 220.64,340.43 222.35,339.89 224.07,339.36 225.78,338.83 227.50,338.31 229.21,337.78 230.93,337.26 232.64,336.75 234.36,336.23 236.07,335.72 237.79,335.22 239.50,334.71 241.22,334.21 242.94,333.71 244.65,333.22 246.37,332.73 248.08,332.24 249.80,331.75 251.51,331.27 253.23,330.79 254.94,330.31 256.66,329.83 258.37,329.36 260.09,328.89 261.80,328.43 263.52,327.97 265.23,327.51 266.95,327.05 268.66,326.60 270.38,326.15 272.09,325.70 273.81,325.25 275.52,324.81 277.24,324.37 278.96,323.93 280.67,323.50 282.39,323.07 284.10,322.64 285.82,322.22 287.53,321.79 289.25,321.37 290.96,320.96 292.68,320.54 294.39,320.13 296.11,319.72 297.82,319.32 299.54,318.92 301.25,318.52 302.97,318.12 304.68,317.72 306.40,317.33 308.11,316.94 309.83,316.56 311.55,316.17 313.26,315.79 314.98,315.42 316.69,315.04 318.41,314.67 320.12,314.30 321.84,313.93 323.55,313.57 325.27,313.21 326.98,312.85 328.70,312.49 330.41,312.14 332.13,311.79 333.84,311.44 335.56,311.09 337.27,310.75 338.99,310.41 340.70,310.07 342.42,309.74 344.13,309.41 345.85,309.08 347.57,308.75 349.28,308.42 351.00,308.10 352.71,307.78 354.43,307.47 356.14,307.15 357.86,306.84 359.57,306.53 361.29,306.23 363.00,305.92 364.72,305.62 366.43,305.32 368.15,305.03 369.86,304.73 371.58,304.44 373.29,304.15 375.01,303.87 376.72,303.58 378.44,303.30 380.16,303.02 381.87,302.75 383.59,302.47 385.30,302.20 387.02,301.93 388.73,301.67 390.45,301.40 392.16,301.14 393.88,300.88 395.59,300.63 397.31,300.37 399.02,300.12 400.74,299.87 402.45,299.63 404.17,299.38 405.88,299.14 407.60,298.90 409.31,298.66 411.03,298.43 412.75,298.20 414.46,297.97 416.18,297.74 417.89,297.52 419.61,297.29 421.32,297.07 423.04,296.85 424.75,296.64 426.47,296.42 428.18,296.21 429.90,296.00 431.61,295.80 433.33,295.59 435.04,295.39 436.76,295.19 438.47,294.99 440.19,294.80 441.90,294.61 443.62,294.42 445.33,294.23 447.05,294.04 448.77,293.86 450.48,293.68 452.20,293.50 453.91,293.32 455.63,293.14 457.34,292.97 459.06,292.80 460.77,292.63 462.49,292.47 464.20,292.30 465.92,292.14 467.63,291.98 469.35,291.82 471.06,291.67 472.78,291.52 474.49,291.36 476.21,291.22 477.92,291.07 479.64,290.92 481.36,290.78 483.07,290.64 484.79,290.50 486.50,290.37 488.22,290.23 489.93,290.10 491.65,289.97 493.36,289.84 495.08,289.72 496.79,289.59 498.51,289.47 500.22,289.35 501.94,289.24 503.65,289.12 505.37,289.01 507.08,288.90 508.80,288.79 510.51,288.68 512.23,288.57 513.94,288.47 515.66,288.37 517.38,288.27 519.09,288.17 520.81,288.08 522.52,287.98 524.24,287.89 525.95,287.80 527.67,287.71 529.38,287.63 531.10,287.55 532.81,287.46 534.53,287.38 536.24,287.31 537.96,287.23 539.67,287.16 541.39,287.08 543.10,287.01 544.82,286.95 546.53,286.88 548.25,286.81 549.96,286.75 551.68,286.69 553.40,286.63 555.11,286.58 556.83,286.52 558.54,286.47 560.26,286.41 561.97,286.36 563.69,286.32 565.40,286.27 567.12,286.23 568.83,286.18 570.55,286.14 572.26,286.10 573.98,286.07 575.69,286.03 577.41,286.00 579.12,285.97 580.84,285.94 582.55,285.91 584.27,285.88 585.99,285.86 587.70,285.83 589.42,285.81 591.13,285.79 592.85,285.77 594.56,285.76 596.28,285.74 597.99,285.73 599.71,285.72 601.42,285.71 603.14,285.70 604.85,285.69 606.57,285.69 608.28,285.69 610.00,285.69 611.71,285.69 613.43,285.69 615.14,285.69 616.86,285.70 618.58,285.70 620.29,285.71 622.01,285.72 623.72,285.73 625.44,285.75 627.15,285.76 628.87,285.78 630.58,285.80 632.30,285.82 634.01,285.84 635.73,285.86 637.44,285.89 639.16,285.91 640.87,285.94 642.59,285.97 644.30,286.00 646.02,286.03 647.73,286.06 649.45,286.10 651.16,286.13 652.88,286.17 654.60,286.21 656.31,286.25 658.03,286.30 659.74,286.34 661.46,286.38 663.17,286.43 664.89,286.48 666.60,286.53 668.32,286.58 670.03,286.63 671.75,286.69 673.46,286.74 675.18,286.80 676.89,286.86 678.61,286.92 680.32,286.98 682.04,287.04 683.75,287.10 685.47,287.17 687.18,287.23 688.90,287.30 690.62,287.37 692.33,287.44 694.05,287.51 695.76,287.59 697.48,287.66 699.19,287.74 700.91,287.81 702.62,287.89 704.34,287.97 706.05,288.05 707.77,288.14 709.48,288.22 711.20,288.30 712.91,288.39 714.63,288.48 716.34,288.57 718.06,288.66 719.77,288.75 721.49,288.84 723.21,288.93 724.92,289.03 726.64,289.12 728.35,289.22 730.07,289.32 731.78,289.42 733.50,289.52 735.21,289.62 736.93,289.73 738.64,289.83 740.36,289.94 742.07,290.04 743.79,290.15 745.50,290.26 747.22,290.37 748.93,290.48 750.65,290.59 752.36,290.71 754.08,290.82 755.79,290.94 757.51,291.05 759.23,291.17 760.94,291.29 762.66,291.41 764.37,291.53 766.09,291.66 767.80,291.78 769.52,291.90 771.23,292.03 772.95,292.16 774.66,292.28 776.38,292.41 778.09,292.54 779.81,292.67 781.52,292.80 783.24,292.94 784.95,293.07 786.67,293.20 788.38,293.34 790.10,293.48 791.82,293.62 793.53,293.75 795.25,293.89 796.96,294.03 798.68,294.18 800.39,294.32 802.11,294.46 803.82,294.61 805.54,294.75 807.25,294.90 808.97,295.04 810.68,295.19 812.40,295.34 814.11,295.49 815.83,295.64 817.54,295.79 819.26,295.95 820.97,296.10 822.69,296.25 824.40,296.41 826.12,296.56 827.84,296.72 829.55,296.88 831.27,297.04 832.98,297.20 834.70,297.36 836.41,297.52 838.13,297.68 839.84,297.84 841.56,298.01 843.27,298.17 844.99,298.33 846.70,298.50 848.42,298.67 850.13,298.83 851.85,299.00 853.56,299.17 855.28,299.34 856.99,299.51 858.71,299.68 860.43,299.85 862.14,300.03 863.86,300.20 865.57,300.37 867.29,300.55 869.00,300.72 870.72,300.90 872.43,301.07 874.15,301.25 875.86,301.43 877.58,301.61 879.29,301.79 881.01,301.97 882.72,302.15 884.44,302.33 886.15,302.51 887.87,302.69 889.58,302.88 891.30,303.06 893.01,303.24 894.73,303.43 896.45,303.61 898.16,303.80 899.88,303.99 901.59,304.17 903.31,304.36 905.02,304.55 906.74,304.74 908.45,304.93 910.17,305.12 911.88,305.31 913.60,305.50 915.31,305.69 917.03,305.88 918.74,306.08 920.46,306.27 922.17,306.46 923.89,306.66 925.60,306.85 927.32,307.05 929.04,307.24 930.75,307.44 932.47,307.63 934.18,307.83 935.90,308.03 937.61,308.23 939.33,308.42 941.04,308.62 942.76,308.82 944.47,309.02 946.19,309.22 947.90,309.42 949.62,309.62 951.33,309.82 953.05,310.02 954.76,310.23 956.48,310.43 958.19,310.63 959.91,310.83 961.62,311.04 963.34,311.24 965.06,311.45 966.77,311.65 968.49,311.85 970.20,312.06 971.92,312.26 973.63,312.47 975.35,312.68 977.06,312.88 978.78,313.09 980.49,313.30 982.21,313.50 983.92,313.71 985.64,313.92 987.35,314.12 989.07,314.33 990.78,314.54 992.50,314.75 994.21,314.96 995.93,315.17 997.65,315.38 999.36,315.59 1001.08,315.80 1002.79,316.01 1004.51,316.22 1006.22,316.43 1007.94,316.64 1009.65,316.85 1011.37,317.06 1013.08,317.27 1014.80,317.48 1016.51,317.69 1018.23,317.90 1019.94,318.11 1021.66,318.33 1023.37,318.54 1025.09,318.75 1026.80,318.96 1028.52,319.17 1030.24,319.39 1031.95,319.60 1033.67,319.81 1035.38,320.02 1037.10,320.24 1038.81,320.45 1040.53,320.66 1042.24,320.87 1043.96,321.09 1045.67,321.30 1047.39,321.51 1049.10,321.72 1050.82,321.94 1052.53,322.15 1054.25,322.36 1055.96,322.58 1057.68,322.79 1059.39,323.00 1061.11,323.22 1062.82,323.43 1064.54,323.64 1066.26,323.85 1067.97,324.07 1069.69,324.28 1071.40,324.49 1073.12,324.71 1074.83,324.92 1076.55,325.13 1078.26,325.34 1079.98,325.56 1081.69,325.77 1083.41,325.98 1085.12,326.19 1086.84,326.40 1088.55,326.62 1090.27,326.83 1091.98,327.04 1093.70,327.25 1095.41,327.46 1097.13,327.67 1098.85,327.88 1100.56,328.09 1102.28,328.31 1103.99,328.52 1105.71,328.73 1107.42,328.94 1109.14,329.15 1110.85,329.36 1112.57,329.57 1114.28,329.78 1116.00,329.98 1117.71,330.19 1119.43,330.40 1121.14,330.61 1122.86,330.82 1124.57,331.03 1126.29,331.23 1128.00,331.44 1129.72,331.65 1131.43,331.86 1133.15,332.06" fill="none" stroke="#ff00ff" stroke-width="4.2" stroke-dasharray="26.5 16.25 7.5 16.25" stroke-dashoffset="0.00"/>
<polyline points="104.00,478.82 105.72,476.83 107.43,474.86 109.15,472.91 110.86,470.97 112.58,469.04 114.29,467.13 116.01,465.23 117.72,463.34 119.44,461.47 121.15,459.61 122.87,457.77 124.58,455.94 126.30,454.12 128.01,452.32 129.73,450.53 131.44,448.75 133.16,446.99 134.87,445.24 136.59,443.51 138.31,441.79 140.02,440.08 141.74,438.38 143.45,436.70 145.17,435.03 146.88,433.38 148.60,431.73 150.31,430.11 152.03,428.49 153.74,426.89 155.46,425.30 157.17,423.72 158.89,422.15 160.60,420.60 162.32,419.06 164.03,417.54 165.75,416.03 167.46,414.53 169.18,413.04 170.89,411.56 172.61,410.10 174.33,408.65 176.04,407.21 177.76,405.79 179.47,404.37 181.19,402.97 182.90,401.58 184.62,400.21 186.33,398.84 188.05,397.49 189.76,396.15 191.48,394.82 193.19,393.51 194.91,392.21 196.62,390.91 198.34,389.63 200.05,388.37 201.77,387.11 203.48,385.87 205.20,384.63 206.91,383.41 208.63,382.20 210.35,381.01 212.06,379.82 213.78,378.65 215.49,377.48 217.21,376.33 218.92,375.19 220.64,374.06 222.35,372.94 224.07,371.84 225.78,370.74 227.50,369.66 229.21,368.59 230.93,367.53 232.64,366.48 234.36,365.44 236.07,364.41 237.79,363.39 239.50,362.38 241.22,361.39 242.94,360.40 244.65,359.43 246.37,358.46 248.08,357.51 249.80,356.57 251.51,355.64 253.23,354.72 254.94,353.81 256.66,352.90 258.37,352.01 260.09,351.14 261.80,350.27 263.52,349.41 265.23,348.56 266.95,347.72 268.66,346.89 270.38,346.07 272.09,345.27 273.81,344.47 275.52,343.68 277.24,342.90 278.96,342.13 280.67,341.38 282.39,340.63 284.10,339.89 285.82,339.16 287.53,338.44 289.25,337.73 290.96,337.03 292.68,336.34 294.39,335.66 296.11,334.99 297.82,334.33 299.54,333.67 301.25,333.03 302.97,332.40 304.68,331.77 306.40,331.16 308.11,330.55 309.83,329.95 311.55,329.36 313.26,328.79 314.98,328.22 316.69,327.65 318.41,327.10 320.12,326.56 321.84,326.02 323.55,325.50 325.27,324.98 326.98,324.47 328.70,323.97 330.41,323.48 332.13,323.00 333.84,322.53 335.56,322.06 337.27,321.61 338.99,321.16 340.70,320.72 342.42,320.29 344.13,319.86 345.85,319.45 347.57,319.04 349.28,318.64 351.00,318.25 352.71,317.87 354.43,317.49 356.14,317.13 357.86,316.77 359.57,316.42 361.29,316.08 363.00,315.74 364.72,315.41 366.43,315.09 368.15,314.78 369.86,314.48 371.58,314.18 373.29,313.89 375.01,313.61 376.72,313.34 378.44,313.07 380.16,312.81 381.87,312.56 383.59,312.31 385.30,312.08 387.02,311.85 388.73,311.62 390.45,311.41 392.16,311.20 393.88,311.00 395.59,310.80 397.31,310.61 399.02,310.43 400.74,310.26 402.45,310.09 404.17,309.93 405.88,309.78 407.60,309.63 409.31,309.49 411.03,309.36 412.75,309.23 414.46,309.11 416.18,309.00 417.89,308.89 419.61,308.79 421.32,308.69 423.04,308.61 424.75,308.52 426.47,308.45 428.18,308.38 429.90,308.31 431.61,308.26 433.33,308.21 435.04,308.16 436.76,308.12 438.47,308.09 440.19,308.06 441.90,308.04 443.62,308.02 445.33,308.01 447.05,308.01 448.77,308.01 450.48,308.02 452.20,308.03 453.91,308.05 455.63,308.07 457.34,308.10 459.06,308.14 460.77,308.18 462.49,308.22 464.20,308.27 465.92,308.33 467.63,308.39 469.35,308.46 471.06,308.53 472.78,308.60 474.49,308.68 476.21,308.77 477.92,308.86 479.64,308.96 481.36,309.06 483.07,309.17 484.79,309.28 486.50,309.39 488.22,309.51 489.93,309.64 491.65,309.77 493.36,309.90 495.08,310.04 496.79,310.18 498.51,310.33 500.22,310.48 501.94,310.64 503.65,310.80 505.37,310.97 507.08,311.14 508.80,311.31 510.51,311.49 512.23,311.67 513.94,311.85 515.66,312.04 517.38,312.24 519.09,312.44 520.81,312.64 522.52,312.84 524.24,313.05 525.95,313.27 527.67,313.48 529.38,313.70 531.10,313.93 532.81,314.16 534.53,314.39 536.24,314.62 537.96,314.86 539.67,315.10 541.39,315.35 543.10,315.59 544.82,315.85 546.53,316.10 548.25,316.36 549.96,316.62 551.68,316.89 553.40,317.15 555.11,317.42 556.83,317.70 558.54,317.97 560.26,318.25 561.97,318.54 563.69,318.82 565.40,319.11 567.12,319.40 568.83,319.69 570.55,319.99 572.26,320.29 573.98,320.59 575.69,320.89 577.41,321.20 579.12,321.51 580.84,321.82 582.55,322.13 584.27,322.45 585.99,322.75 587.70,323.06 589.42,323.37 591.13,323.68 592.85,323.99 594.56,324.31 596.28,324.63 597.99,324.95 599.71,325.27 601.42,325.59 603.14,325.92 604.85,326.24 606.57,326.57 608.28,326.90 610.00,327.23 611.71,327.57 613.43,327.90 615.14,328.24 616.86,328.58 618.58,328.92 620.29,329.26 622.01,329.60 623.72,329.95 625.44,330.29 627.15,330.64 628.87,330.99 630.58,331.34 632.30,331.69 634.01,332.04 635.73,332.39 637.44,332.74 639.16,333.10 640.87,333.45 642.59,333.81 644.30,334.16 646.02,334.52 647.73,334.88 649.45,335.24 651.16,335.60 652.88,335.96 654.60,336.32 656.31,336.68 658.03,337.04 659.74,337.40 661.46,337.77 663.17,338.13 664.89,338.49 666.60,338.86 668.32,339.22 670.03,339.58 671.75,339.95 673.46,340.31 675.18,340.68 676.89,341.04 678.61,341.41 680.32,341.77 682.04,342.13 683.75,342.50 685.47,342.86 687.18,343.23 688.90,343.59 690.62,343.95 692.33,344.31 694.05,344.68 695.76,345.04 697.48,345.40 699.19,345.76 700.91,346.12 702.62,346.48 704.34,346.84 706.05,347.20 707.77,347.55 709.48,347.91 711.20,348.27 712.91,348.62 714.63,348.98 716.34,349.33 718.06,349.68 719.77,350.03 721.49,350.38 723.21,350.73 724.92,351.08 726.64,351.42 728.35,351.77 730.07,352.11 731.78,352.45 733.50,352.80 735.21,353.14 736.93,353.47 738.64,353.81 740.36,354.14 742.07,354.48 743.79,354.81 745.50,355.14 747.22,355.47 748.93,355.80 750.65,356.12 752.36,356.44 754.08,356.76 755.79,357.08 757.51,357.40 759.23,357.71 760.94,358.03 762.66,358.34 764.37,358.65 766.09,358.95 767.80,359.26 769.52,359.56 771.23,359.86 772.95,360.16 774.66,360.45 776.38,360.74 778.09,361.03 779.81,361.32 781.52,361.61 783.24,361.89 784.95,362.17 786.67,362.44 788.38,362.72 790.10,362.99 791.82,363.26 793.53,363.52 795.25,363.79 796.96,364.05 798.68,364.30 800.39,364.56 802.11,364.81 803.82,365.05 805.54,365.30 807.25,365.54 808.97,365.78 810.68,366.01 812.40,366.24 814.11,366.47 815.83,366.69 817.54,366.91 819.26,367.13 820.97,367.35 822.69,367.56 824.40,367.76 826.12,367.96 827.84,368.16 829.55,368.36 831.27,368.55 832.98,368.74 834.70,368.92 836.41,369.10 838.13,369.28 839.84,369.45 841.56,369.62 843.27,369.78 844.99,369.94 846.70,370.09 848.42,370.24 850.13,370.39 851.85,370.53 853.56,370.67 855.28,370.80 856.99,370.93 858.71,371.06 860.43,371.18 862.14,371.29 863.86,371.40 865.57,371.51 867.29,371.61 869.00,371.71 870.72,371.80 872.43,371.89 874.15,371.97 875.86,372.05 877.58,372.12 879.29,372.19 881.01,372.25 882.72,372.30 884.44,372.36 886.15,372.40 887.87,372.44 889.58,372.48 891.30,372.51 893.01,372.54 894.73,372.56 896.45,372.57 898.16,372.58 899.88,372.58 901.59,372.58 903.31,372.57 905.02,372.56 906.74,372.54 908.45,372.52 910.17,372.49 911.88,372.45 913.60,372.41 915.31,372.36 917.03,372.31 918.74,372.25 920.46,372.18 922.17,372.11 923.89,372.03 925.60,371.95 927.32,371.86 929.04,371.76 930.75,371.66 932.47,371.55 934.18,371.43 935.90,371.31 937.61,371.18 939.33,371.05 941.04,370.90 942.76,370.76 944.47,370.60 946.19,370.44 947.90,370.27 949.62,370.10 951.33,369.91 953.05,369.73 954.76,369.53 956.48,369.33 958.19,369.12 959.91,368.90 961.62,368.68 963.34,368.45 965.06,368.21 966.77,367.97 968.49,367.71 970.20,367.45 971.92,367.19 973.63,366.91 975.35,366.63 977.06,366.34 978.78,366.05 980.49,365.74 982.21,365.43 983.92,365.11 985.64,364.78 987.35,364.45 989.07,364.11 990.78,363.76 992.50,363.40 994.21,363.03 995.93,362.66 997.65,362.28 999.36,361.89 1001.08,361.49 1002.79,361.09 1004.51,360.67 1006.22,360.25 1007.94,359.82 1009.65,359.38 1011.37,358.93 1013.08,358.48 1014.80,358.02 1016.51,357.54 1018.23,357.06 1019.94,356.58 1021.66,356.08 1023.37,355.57 1025.09,355.06 1026.80,354.53 1028.52,354.00 1030.24,353.46 1031.95,352.91 1033.67,352.35 1035.38,351.79 1037.10,351.21 1038.81,350.62 1040.53,350.03 1042.24,349.43 1043.96,348.81 1045.67,348.19 1047.39,347.56 1049.10,346.92 1050.82,346.27 1052.53,345.61 1054.25,344.95 1055.96,344.27 1057.68,343.58 1059.39,342.89 1061.11,342.18 1062.82,341.46 1064.54,340.74 1066.26,340.01 1067.97,339.26 1069.69,338.51 1071.40,337.74 1073.12,336.97 1074.83,336.19 1076.55,335.39 1078.26,334.59 1079.98,333.78 1081.69,332.95 1083.41,332.12 1085.12,331.28 1086.84,330.42 1088.55,329.56 1090.27,328.68 1091.98,327.80 1093.70,326.90 1095.41,326.00 1097.13,325.08 1098.85,324.16 1100.56,323.22 1102.28,322.27 1103.99,321.31 1105.71,320.35 1107.42,319.37 1109.14,318.38 1110.85,317.38 1112.57,316.36 1114.28,315.34 1116.00,314.31 1117.71,313.27 1119.43,312.21 1121.14,311.14 1122.86,310.07 1124.57,308.98 1126.29,307.88 1128.00,306.77 1129.72,305.65 1131.43,304.51 1133.15,303.37" fill="none" stroke="#cc99ff" stroke-width="2.5" stroke-dasharray="18 11.2 5 11.2" stroke-dashoffset="0.00"/>
<polyline points="104.00,319.89 105.72,320.35 107.43,320.80 109.15,321.24 110.86,321.68 112.58,322.11 114.29,322.54 116.01,322.96 117.72,323.37 119.44,323.78 121.15,324.18 122.87,324.57 124.58,324.96 126.30,325.35 128.01,325.72 129.73,326.09 131.44,326.46 133.16,326.82 134.87,327.17 136.59,327.52 138.31,327.86 140.02,328.19 141.74,328.52 143.45,328.85 145.17,329.17 146.88,329.48 148.60,329.78 150.31,330.09 152.03,330.38 153.74,330.67 155.46,330.95 157.17,331.23 158.89,331.50 160.60,331.77 162.32,332.03 164.03,332.29 165.75,332.54 167.46,332.78 169.18,333.02 170.89,333.26 172.61,333.48 174.33,333.71 176.04,333.92 177.76,334.14 179.47,334.34 181.19,334.55 182.90,334.74 184.62,334.93 186.33,335.12 188.05,335.30 189.76,335.47 191.48,335.64 193.19,335.81 194.91,335.97 196.62,336.12 198.34,336.27 200.05,336.42 201.77,336.56 203.48,336.69 205.20,336.82 206.91,336.94 208.63,337.06 210.35,337.18 212.06,337.29 213.78,337.39 215.49,337.49 217.21,337.59 218.92,337.68 220.64,337.76 222.35,337.84 224.07,337.92 225.78,337.99 227.50,338.06 229.21,338.12 230.93,338.17 232.64,338.23 234.36,338.27 236.07,338.32 237.79,338.36 239.50,338.39 241.22,338.42 242.94,338.44 244.65,338.46 246.37,338.48 248.08,338.49 249.80,338.50 251.51,338.50 253.23,338.50 254.94,338.49 256.66,338.48 258.37,338.47 260.09,338.45 261.80,338.43 263.52,338.40 265.23,338.37 266.95,338.33 268.66,338.29 270.38,338.25 272.09,338.20 273.81,338.15 275.52,338.09 277.24,338.03 278.96,337.96 280.67,337.89 282.39,337.82 284.10,337.75 285.82,337.66 287.53,337.58 289.25,337.49 290.96,337.40 292.68,337.30 294.39,337.20 296.11,337.10 297.82,336.99 299.54,336.88 301.25,336.77 302.97,336.65 304.68,336.52 306.40,336.40 308.11,336.27 309.83,336.13 311.55,336.00 313.26,335.86 314.98,335.71 316.69,335.56 318.41,335.41 320.12,335.26 321.84,335.10 323.55,334.94 325.27,334.77 326.98,334.60 328.70,334.43 330.41,334.26 332.13,334.08 333.84,333.89 335.56,333.71 337.27,333.52 338.99,333.33 340.70,333.13 342.42,332.94 344.13,332.73 345.85,332.53 347.57,332.32 349.28,332.11 351.00,331.90 352.71,331.68 354.43,331.46 356.14,331.24 357.86,331.01 359.57,330.78 361.29,330.55 363.00,330.31 364.72,330.08 366.43,329.83 368.15,329.59 369.86,329.34 371.58,329.09 373.29,328.84 375.01,328.59 376.72,328.33 378.44,328.07 380.16,327.81 381.87,327.54 383.59,327.27 385.30,327.00 387.02,326.73 388.73,326.45 390.45,326.17 392.16,325.89 393.88,325.60 395.59,325.32 397.31,325.03 399.02,324.74 400.74,324.44 402.45,324.15 404.17,323.85 405.88,323.55 407.60,323.24 409.31,322.94 411.03,322.63 412.75,322.32 414.46,322.01 416.18,321.69 417.89,321.37 419.61,321.05 421.32,320.73 423.04,320.41 424.75,320.08 426.47,319.76 428.18,319.43 429.90,319.09 431.61,318.76 433.33,318.42 435.04,318.09 436.76,317.75 438.47,317.40 440.19,317.06 441.90,316.71 443.62,316.37 445.33,316.02 447.05,315.67 448.77,315.31 450.48,314.96 452.20,314.60 453.91,314.24 455.63,313.88 457.34,313.52 459.06,313.16 460.77,312.79 462.49,312.42 464.20,312.05 465.92,311.68 467.63,311.31 469.35,310.94 471.06,310.57 472.78,310.19 474.49,309.81 476.21,309.43 477.92,309.05 479.64,308.67 481.36,308.29 483.07,307.90 484.79,307.52 486.50,307.13 488.22,306.74 489.93,306.35 491.65,305.96 493.36,305.57 495.08,305.17 496.79,304.78 498.51,304.38 500.22,303.98 501.94,303.59 503.65,303.19 505.37,302.79 507.08,302.39 508.80,301.98 510.51,301.58 512.23,301.17 513.94,300.77 515.66,300.36 517.38,299.96 519.09,299.55 520.81,299.14 522.52,298.73 524.24,298.32 525.95,297.91 527.67,297.49 529.38,297.08 531.10,296.67 532.81,296.25 534.53,295.84 536.24,295.42 537.96,295.01 539.67,294.59 541.39,294.17 543.10,293.75 544.82,293.33 546.53,292.92 548.25,292.50 549.96,292.08 551.68,291.65 553.40,291.23 555.11,290.81 556.83,290.39 558.54,289.97 560.26,289.55 561.97,289.12 563.69,288.70 565.40,288.28 567.12,287.85 568.83,287.43 570.55,287.00 572.26,286.58 573.98,286.15 575.69,285.73 577.41,285.30 579.12,284.88 580.84,284.45 582.55,284.03 584.27,283.60 585.99,283.17 587.70,282.74 589.42,282.31 591.13,281.88 592.85,281.45 594.56,281.02 596.28,280.59 597.99,280.16 599.71,279.73 601.42,279.30 603.14,278.87 604.85,278.45 606.57,278.02 608.28,277.59 610.00,277.16 611.71,276.73 613.43,276.31 615.14,275.88 616.86,275.45 618.58,275.03 620.29,274.60 622.01,274.17 623.72,273.75 625.44,273.33 627.15,272.90 628.87,272.48 630.58,272.06 632.30,271.63 634.01,271.21 635.73,270.79 637.44,270.37 639.16,269.95 640.87,269.53 642.59,269.11 644.30,268.70 646.02,268.28 647.73,267.86 649.45,267.45 651.16,267.04 652.88,266.62 654.60,266.21 656.31,265.80 658.03,265.39 659.74,264.98 661.46,264.57 663.17,264.16 664.89,263.76 666.60,263.35 668.32,262.95 670.03,262.54 671.75,262.14 673.46,261.74 675.18,261.34 676.89,260.94 678.61,260.54 680.32,260.15 682.04,259.75 683.75,259.36 685.47,258.97 687.18,258.58 688.90,258.19 690.62,257.80 692.33,257.41 694.05,257.03 695.76,256.64 697.48,256.26 699.19,255.88 700.91,255.50 702.62,255.12 704.34,254.74 706.05,254.37 707.77,253.99 709.48,253.62 711.20,253.25 712.91,252.88 714.63,252.52 716.34,252.15 718.06,251.79 719.77,251.43 721.49,251.07 723.21,250.71 724.92,250.35 726.64,250.00 728.35,249.64 730.07,249.29 731.78,248.94 733.50,248.60 735.21,248.25 736.93,247.91 738.64,247.57 740.36,247.23 742.07,246.89 743.79,246.56 745.50,246.22 747.22,245.89 748.93,245.56 750.65,245.24 752.36,244.91 754.08,244.59 755.79,244.27 757.51,243.95 759.23,243.64 760.94,243.33 762.66,243.01 764.37,242.71 766.09,242.40 767.80,242.10 769.52,241.80 771.23,241.50 772.95,241.20 774.66,240.91 776.38,240.61 778.09,240.33 779.81,240.04 781.52,239.75 783.24,239.47 784.95,239.19 786.67,238.92 788.38,238.64 790.10,238.37 791.82,238.11 793.53,237.84 795.25,237.58 796.96,237.32 798.68,237.06 800.39,236.81 802.11,236.56 803.82,236.31 805.54,236.06 807.25,235.82 808.97,235.58 810.68,235.34 812.40,235.11 814.11,234.88 815.83,234.65 817.54,234.42 819.26,234.20 820.97,233.98 822.69,233.77 824.40,233.55 826.12,233.34 827.84,233.14 829.55,232.93 831.27,232.73 832.98,232.54 834.70,232.34 836.41,232.15 838.13,231.97 839.84,231.78 841.56,231.60 843.27,231.43 844.99,231.25 846.70,231.08 848.42,230.91 850.13,230.75 851.85,230.59 853.56,230.44 855.28,230.28 856.99,230.13 858.71,229.99 860.43,229.85 862.14,229.71 863.86,229.57 865.57,229.44 867.29,229.31 869.00,229.19 870.72,229.07 872.43,228.95 874.15,228.84 875.86,228.73 877.58,228.63 879.29,228.53 881.01,228.43 882.72,228.34 884.44,228.25 886.15,228.16 887.87,228.08 889.58,228.00 891.30,227.93 893.01,227.86 894.73,227.79 896.45,227.73 898.16,227.68 899.88,227.62 901.59,227.57 903.31,227.53 905.02,227.49 906.74,227.45 908.45,227.42 910.17,227.39 911.88,227.37 913.60,227.35 915.31,227.33 917.03,227.32 918.74,227.31 920.46,227.31 922.17,227.31 923.89,227.32 925.60,227.33 927.32,227.35 929.04,227.37 930.75,227.39 932.47,227.42 934.18,227.46 935.90,227.49 937.61,227.54 939.33,227.58 941.04,227.64 942.76,227.69 944.47,227.76 946.19,227.82 947.90,227.89 949.62,227.97 951.33,228.05 953.05,228.13 954.76,228.22 956.48,228.32 958.19,228.42 959.91,228.52 961.62,228.63 963.34,228.75 965.06,228.87 966.77,228.99 968.49,229.12 970.20,229.26 971.92,229.40 973.63,229.54 975.35,229.69 977.06,229.85 978.78,230.01 980.49,230.17 982.21,230.34 983.92,230.52 985.64,230.70 987.35,230.89 989.07,231.08 990.78,231.27 992.50,231.48 994.21,231.68 995.93,231.90 997.65,232.11 999.36,232.34 1001.08,232.57 1002.79,232.80 1004.51,233.04 1006.22,233.29 1007.94,233.54 1009.65,233.79 1011.37,234.06 1013.08,234.32 1014.80,234.60 1016.51,234.88 1018.23,235.16 1019.94,235.45 1021.66,235.75 1023.37,236.05 1025.09,236.36 1026.80,236.67 1028.52,236.99 1030.24,237.32 1031.95,237.65 1033.67,237.98 1035.38,238.33 1037.10,238.67 1038.81,239.03 1040.53,239.39 1042.24,239.76 1043.96,240.13 1045.67,240.51 1047.39,240.89 1049.10,241.28 1050.82,241.68 1052.53,242.08 1054.25,242.49 1055.96,242.90 1057.68,243.32 1059.39,243.75 1061.11,244.19 1062.82,244.63 1064.54,245.07 1066.26,245.52 1067.97,245.98 1069.69,246.45 1071.40,246.92 1073.12,247.40 1074.83,247.88 1076.55,248.37 1078.26,248.87 1079.98,249.37 1081.69,249.88 1083.41,250.40 1085.12,250.92 1086.84,251.45 1088.55,251.99 1090.27,252.53 1091.98,253.08 1093.70,253.64 1095.41,254.20 1097.13,254.77 1098.85,255.35 1100.56,255.93 1102.28,256.52 1103.99,257.11 1105.71,257.72 1107.42,258.33 1109.14,258.95 1110.85,259.57 1112.57,260.20 1114.28,260.84 1116.00,261.48 1117.71,262.13 1119.43,262.79 1121.14,263.46 1122.86,264.13 1124.57,264.81 1126.29,265.50 1128.00,266.19 1129.72,266.89 1131.43,267.60 1133.15,268.32" fill="none" stroke="#ff0000" stroke-width="3" stroke-dasharray="18 10.5 5 10.5" stroke-dashoffset="-1.50"/>
<rect x="193.5" y="511.5" width="724" height="117.5" fill="#ececec" stroke="#a0a0a0" stroke-width="1"/>
<path d="M199.4 533.8H242.6" stroke="#0000ff" stroke-width="2.2"/>
<rect x="213.50" y="526.80" width="14" height="14" fill="#00ccff" stroke="#0000ff" stroke-width="1.4"/>
<path d="M562.2 533.8H605.9" stroke="#008000" stroke-width="2.4"/>
<path d="M584.00 526.30L591.50 533.80L584.00 541.30L576.50 533.80Z" fill="#00ff00" stroke="#008000" stroke-width="1.2"/>
<path d="M199.4 570.9H242.6" stroke="#ff00ff" stroke-width="4"/>
<rect x="213.50" y="563.90" width="14" height="14" fill="#ff00ff" stroke="#000" stroke-width="1.6"/>
<path d="M562.2 570.9H605.9" stroke="#993366" stroke-width="3.5"/>
<circle cx="584.00" cy="570.90" r="7.25" fill="#cc99ff" stroke="#993366" stroke-width="1.5"/>
<path d="M199.4 609.5H242.6" stroke="#ff0000" stroke-width="2.6"/>
<rect x="213.50" y="602.50" width="14" height="14" fill="#ff8080" stroke="#ff0000" stroke-width="1.4"/>
<text x="246.8" y="540.3" font-size="24.3" stroke="#000" stroke-width="0.35">Dew Point Anomaly</text>
<text x="610.2" y="540.3" font-size="24.3" letter-spacing="0.13" stroke="#000" stroke-width="0.35">Minus (Temp Range Anom)</text>
<text x="246.8" y="578.8" font-size="24.3" stroke="#000" stroke-width="0.35">Moisture Index</text>
<text x="610.2" y="578.8" font-size="24.3" stroke="#000" stroke-width="0.35">Rainfall Anom mm (/20)</text>
<text x="246.8" y="616.0" font-size="25.2" font-style="italic" stroke="#000" stroke-width="0.35">Cloudy Days % Anom (/10)</text>
</svg></body></html>
